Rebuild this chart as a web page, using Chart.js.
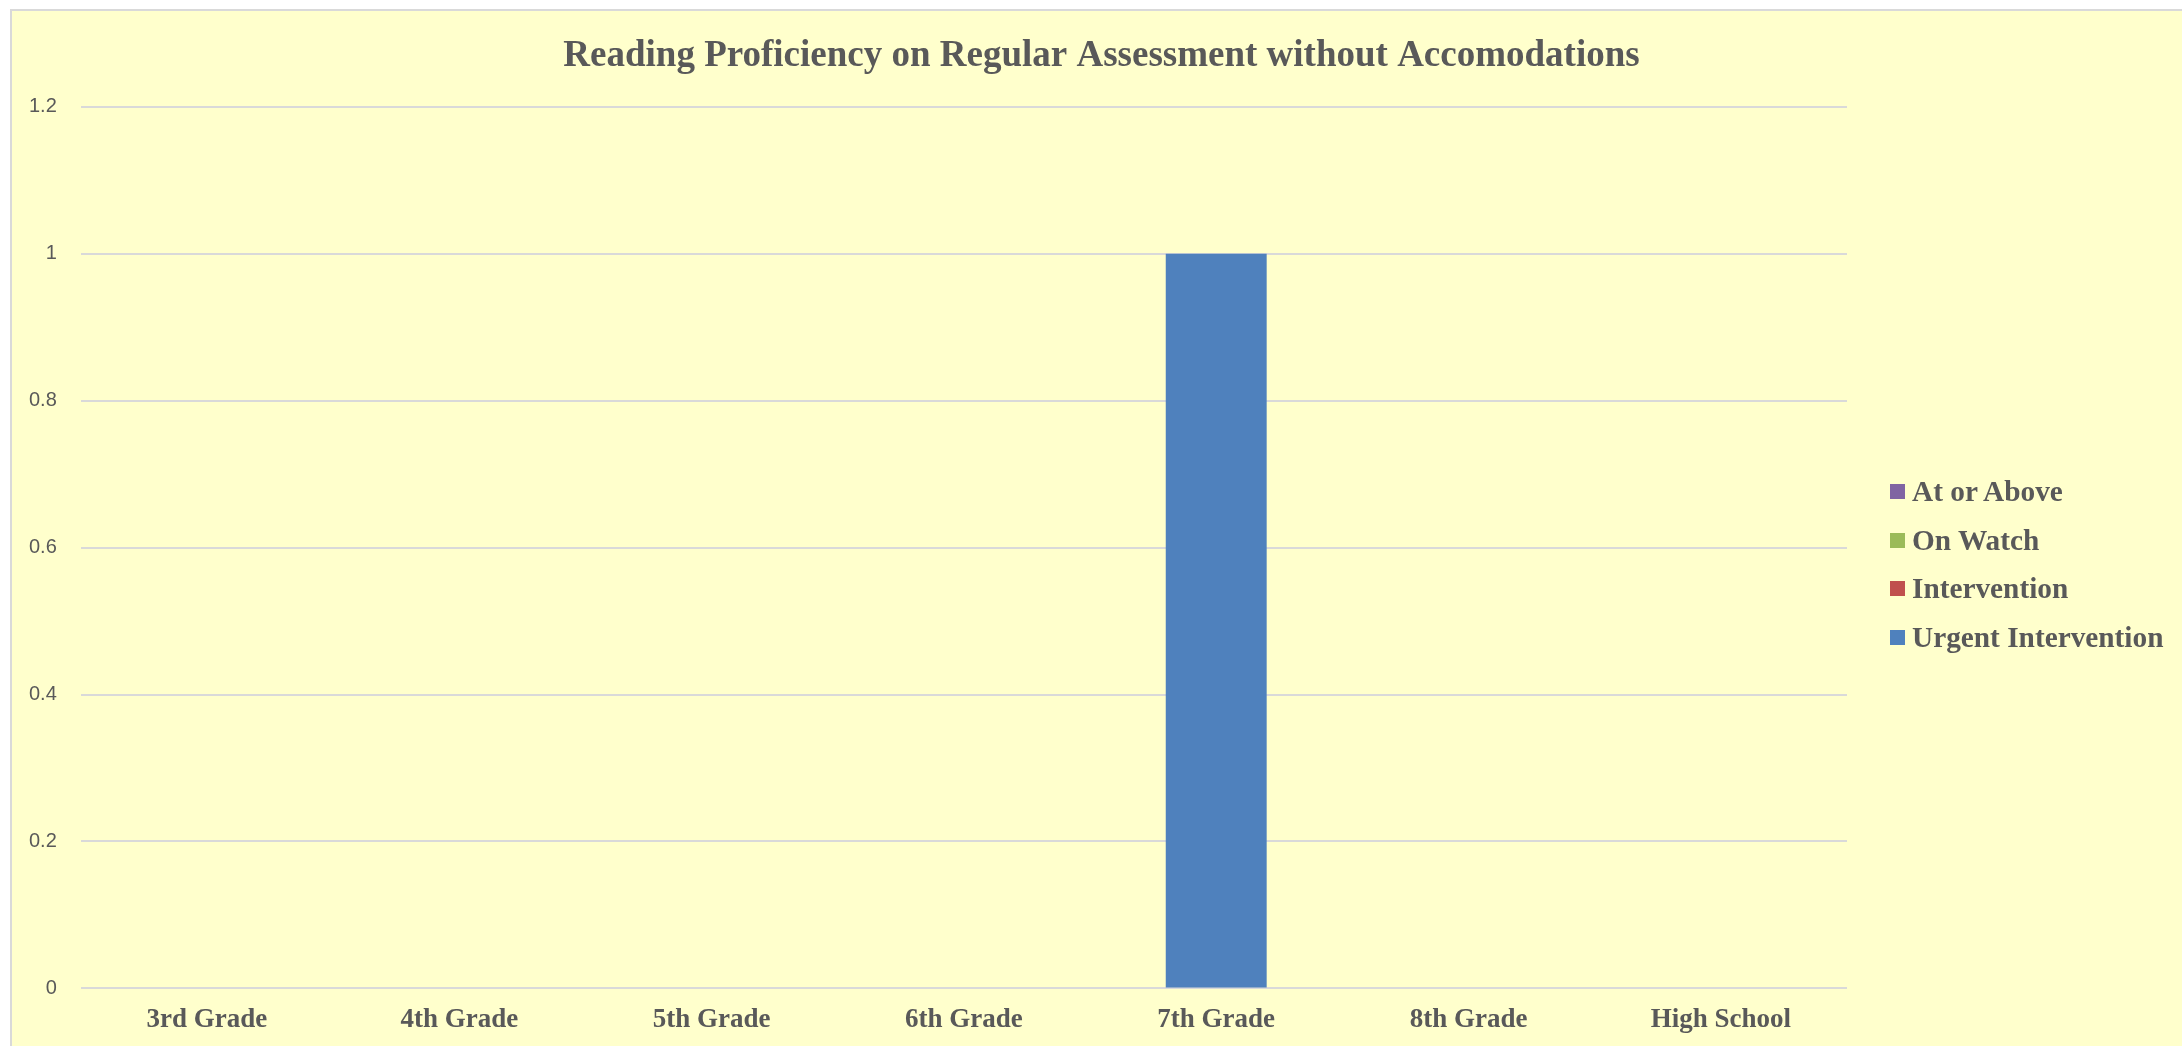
<!DOCTYPE html>
<html>
<head>
<meta charset="utf-8">
<script src="https://cdn.jsdelivr.net/npm/chart.js@4"></script>
<style>
  html, body { margin: 0; padding: 0; background: #ffffff; overflow: hidden; width: 2182px; height: 1046px; }
  #frame {
    position: absolute; left: 10px; top: 9px; width: 2200px; height: 1100px;
    background: #FFFFCC; border-left: 2px solid #d9d9d9; border-top: 2px solid #d9d9d9;
  }
  #chartCanvas { position: absolute; left: 5px; top: 11px; }
  #legend { position: absolute; left: 1890px; top: 467px; font: bold 29.3px "Liberation Serif", serif; color: #595959; }
  #legend .item { height: 48.7px; display: flex; align-items: center; white-space: nowrap; }
  #legend .box { width: 15px; height: 15px; margin-right: 7px; flex: none; }
</style>
</head>
<body>
<div id="frame"></div>
<canvas id="chartCanvas" width="2193" height="1041"></canvas>
<div id="legend"></div>
<script>
// chart values
const grades = ['3rd Grade', '4th Grade', '5th Grade', '6th Grade', '7th Grade', '8th Grade', 'High School'];
const urgentIntervention = [0, 0, 0, 0, 1, 0, 0];
const intervention = [0, 0, 0, 0, 0, 0, 0];
const onWatch = [0, 0, 0, 0, 0, 0, 0];
const atOrAbove = [0, 0, 0, 0, 0, 0, 0];
const yTicks = [0, 0.2, 0.4, 0.6, 0.8, 1, 1.2];

const textColor = '#595959';

const datasets = [
    { label: 'Urgent Intervention', data: urgentIntervention, backgroundColor: '#4F81BD' },
    { label: 'Intervention', data: intervention, backgroundColor: '#C0504D' },
    { label: 'On Watch', data: onWatch, backgroundColor: '#9BBB59' },
    { label: 'At or Above', data: atOrAbove, backgroundColor: '#8064A2' }
];

// legend (top entry is the top of the stack)
const legendEl = document.getElementById('legend');
datasets.slice().reverse().forEach(ds => {
    const row = document.createElement('div');
    row.className = 'item';
    const box = document.createElement('span');
    box.className = 'box';
    box.style.background = ds.backgroundColor;
    row.appendChild(box);
    row.appendChild(document.createTextNode(ds.label));
    legendEl.appendChild(row);
});

const ctx = document.getElementById('chartCanvas');
new Chart(ctx, {
    type: 'bar',
    data: {
        labels: grades,
        datasets: datasets.map(ds => ({
            ...ds,
            borderWidth: 0,
            barPercentage: 0.4,
            categoryPercentage: 1
        }))
    },
    options: {
        responsive: false,
        animation: false,
        devicePixelRatio: 1,
        layout: { padding: 0 },
        plugins: {
            legend: { display: false },
            tooltip: { enabled: false },
            title: {
                display: true,
                text: 'Reading Proficiency on Regular Assessment without Accomodations',
                color: textColor,
                font: { family: 'Liberation Serif', size: 37, weight: 'bold' },
                padding: { top: 23, bottom: 28.3 }
            }
        },
        scales: {
            x: {
                stacked: true,
                grid: { display: false, drawTicks: false },
                border: { display: false },
                ticks: {
                    color: textColor,
                    padding: 15.6,
                    maxRotation: 0,
                    font: { family: 'Liberation Serif', size: 27, weight: 'bold' }
                }
            },
            y: {
                stacked: true,
                min: 0,
                max: 1.2,
                afterBuildTicks: axis => { axis.ticks = yTicks.map(v => ({ value: v })); },
                grid: { color: '#d9d9d9', lineWidth: 2, drawTicks: false },
                border: { display: false },
                ticks: {
                    color: textColor,
                    padding: 24,
                    font: { family: 'Liberation Sans', size: 20 },
                    callback: v => String(v)
                }
            },
            // empty room on the right where the legend sits
            legendSpace: {
                position: 'right',
                grid: { display: false, drawTicks: false },
                border: { display: false },
                ticks: { display: false },
                afterFit: scale => { scale.width = 351; }
            }
        }
    }
});
</script>
</body>
</html>
